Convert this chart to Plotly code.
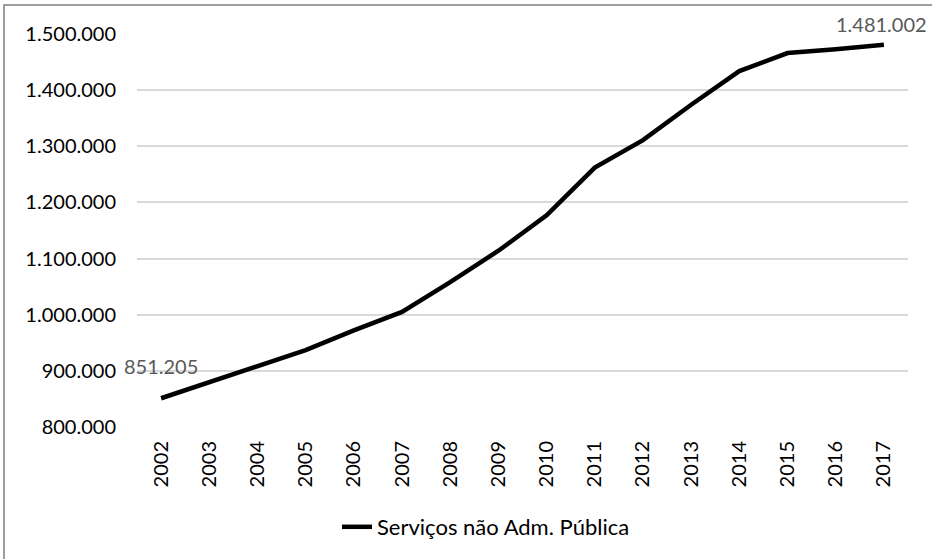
import plotly.graph_objects as go

years = ["2002", "2003", "2004", "2005", "2006", "2007", "2008", "2009",
         "2010", "2011", "2012", "2013", "2014", "2015", "2016", "2017"]
values = [851205, 880000, 908000, 937000, 972000, 1005000, 1058000, 1114000,
          1177000, 1262000, 1311000, 1374000, 1434000, 1466000, 1473000, 1481002]
series_name = "Serviços não Adm. Pública"
y_ticks = [800000, 900000, 1000000, 1100000, 1200000, 1300000, 1400000, 1500000]

W, H = 932, 559
L, R, T, B = 137, 24, 34, 131
FONT = "Lato"
FS = 20

def fmt(v):
    return f"{v:,}".replace(",", ".")

fig = go.Figure()
fig.add_trace(go.Scatter(
    x=years, y=values, mode="lines", name=series_name,
    line=dict(color="black", width=4.5),
))

pw, ph = W - L - R, H - T - B

fig.update_layout(
    width=W, height=H,
    margin=dict(l=L, r=R, t=T, b=B),
    paper_bgcolor="white", plot_bgcolor="white",
    separators=",.",
    font=dict(family=FONT, size=FS, color="black"),
    showlegend=True,
    legend=dict(orientation="h", x=(337 - L) / pw, xanchor="left",
                y=(T + ph - 527) / ph, yanchor="middle",
                font=dict(family=FONT, size=22, color="black"),
                itemwidth=30, bgcolor="rgba(0,0,0,0)"),
    xaxis=dict(type="category", tickangle=-90, showgrid=False,
               showline=False, ticks="", tickfont=dict(size=FS),
               ticklabelstandoff=9,
               range=[-0.5, len(years) - 0.5]),
    yaxis=dict(range=[800000, 1500000], tickvals=y_ticks,
               ticktext=[fmt(v) for v in y_ticks],
               showgrid=True, gridcolor="#d9d9d9", gridwidth=1.5,
               zeroline=False, showline=False, ticks="",
               ticklabelstandoff=20, tickfont=dict(size=FS)),
)

# data labels for first and last points (x given as category index)
fig.add_annotation(x=0, y=values[0], text=fmt(values[0]),
                   showarrow=False, xanchor="center", yanchor="bottom",
                   yshift=18, font=dict(size=FS, color="#595959"))
fig.add_annotation(x=len(years) - 1, y=values[-1], text=fmt(values[-1]),
                   showarrow=False, xanchor="center", yanchor="bottom",
                   xshift=-2, yshift=7, font=dict(size=FS, color="#595959"))

# chart area border (Excel style)
fig.add_shape(type="rect", xref="paper", yref="paper",
              x0=(4 - L) / pw, x1=(W + 10 - L) / pw,
              y0=(T + ph - (H + 10)) / ph, y1=(T + ph - 5) / ph,
              line=dict(color="#7f7f7f", width=1.5), fillcolor="rgba(0,0,0,0)",
              layer="below")

fig.write_html("out.html")
